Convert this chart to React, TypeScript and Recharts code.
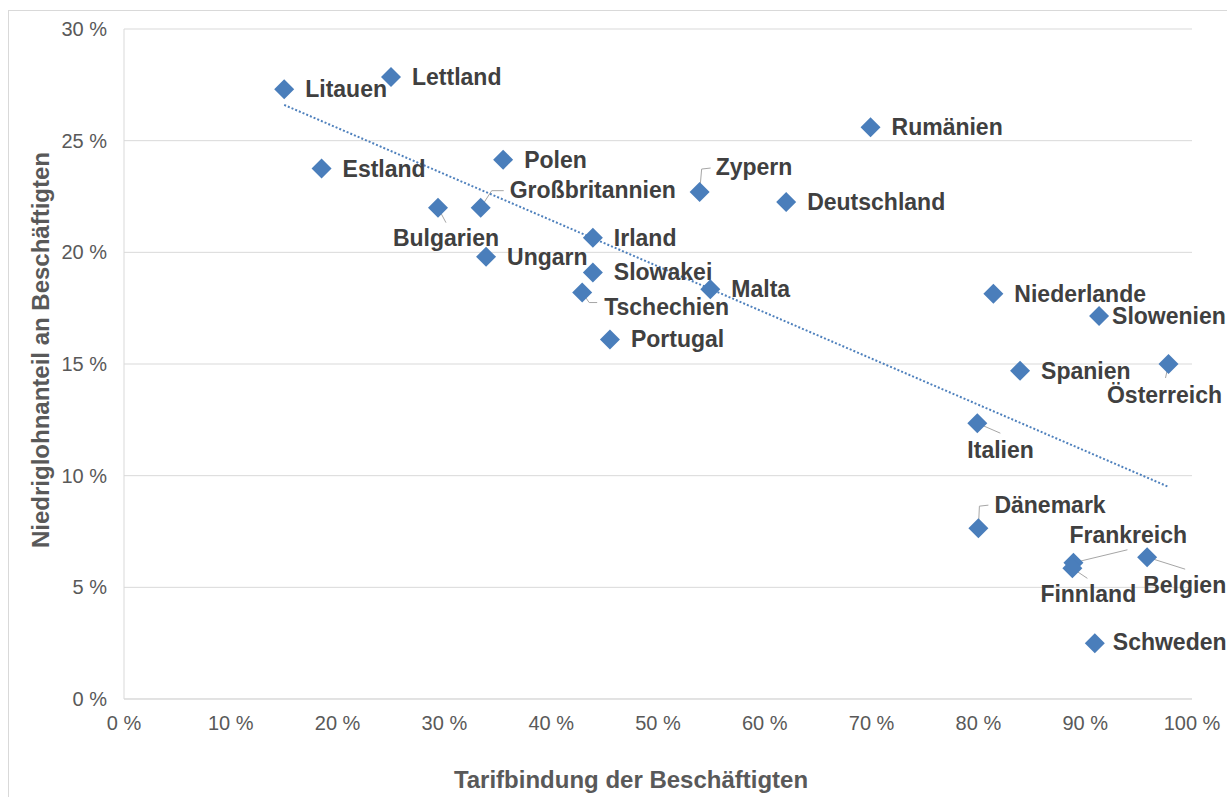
import React from 'react';
import { ScatterChart, Scatter, XAxis, YAxis, CartesianGrid, ReferenceLine } from 'recharts';

const countries = [
  'Litauen', 'Lettland', 'Estland', 'Bulgarien', 'Großbritannien', 'Polen', 'Ungarn', 'Irland',
  'Slowakei', 'Tschechien', 'Portugal', 'Malta', 'Zypern', 'Deutschland', 'Rumänien', 'Niederlande',
  'Slowenien', 'Österreich', 'Spanien', 'Italien', 'Dänemark', 'Frankreich', 'Finnland', 'Belgien', 'Schweden',
];
const coverage = [
  15.0, 25.0, 18.5, 29.4, 33.4, 35.5, 33.9, 43.9,
  43.9, 42.9, 45.5, 54.9, 53.9, 62.0, 69.9, 81.4,
  91.3, 97.8, 83.9, 79.9, 80.0, 88.9, 88.8, 95.8, 90.9,
];
const lowWage = [
  27.3, 27.85, 23.75, 22.0, 22.0, 24.15, 19.8, 20.65,
  19.1, 18.2, 16.1, 18.35, 22.7, 22.25, 25.6, 18.15,
  17.15, 15.0, 14.7, 12.35, 7.65, 6.1, 5.85, 6.35, 2.5,
];
const trendX = [15.0, 97.8];
const trendY = [26.6, 9.5];
const xTicks = [0, 10, 20, 30, 40, 50, 60, 70, 80, 90, 100];
const yTicks = [0, 5, 10, 15, 20, 25, 30];
const xTitle = 'Tarifbindung der Beschäftigten';
const yTitle = 'Niedriglohnanteil an Beschäftigten';

const data = countries.map((name, i) => ({ name, x: coverage[i], y: lowWage[i] }));

type Placement = { dx: number; dy: number; anchor?: 'start' | 'middle'; leader?: number[][] };
const defaultPlacement: Placement = { dx: 21, dy: 8 };
const placements: Record<string, Placement> = {
  'Großbritannien': { dx: 29, dy: -10, leader: [[0, 0], [11, -17], [23, -17]] },
  Bulgarien: { dx: 8, dy: 38, anchor: 'middle', leader: [[0, 0], [8, 15]] },
  Tschechien: { dx: 22, dy: 22, leader: [[0, 0], [7, 10], [15, 10]] },
  Zypern: { dx: 16, dy: -17, leader: [[0, 0], [2, -23], [11, -24]] },
  'Österreich': { dx: -4, dy: 39, anchor: 'middle', leader: [[0, 0], [-3, 14]] },
  Italien: { dx: -10, dy: 35, leader: [[0, 0], [23, 10]] },
  'Dänemark': { dx: 16, dy: -15, leader: [[0, 0], [1, -22], [10, -23]] },
  Frankreich: { dx: -4, dy: -20, leader: [[0, 0], [54, -13]] },
  Finnland: { dx: -32, dy: 34, leader: [[0, 0], [15, 10]] },
  Belgien: { dx: -4, dy: 36, leader: [[0, 0], [38, 12]] },
  Slowenien: { dx: 13, dy: 8 },
  Schweden: { dx: 18, dy: 7 },
};

const FONT = '"Liberation Sans", Arial, sans-serif';
const MARK = '#4a7ebb';

const DiamondWithLabel = (props: any) => {
  const { cx, cy, payload } = props;
  if (cx == null || cy == null) return null;
  const name: string = payload?.name ?? '';
  const p = placements[name] ?? defaultPlacement;
  const s = 10;
  return (
    <g>
      {p.leader && (
        <polyline
          points={p.leader.map(([a, b]) => `${cx + a},${cy + b}`).join(' ')}
          fill="none"
          stroke="#a6a6a6"
          strokeWidth={1}
        />
      )}
      <polygon
        points={`${cx},${cy - s} ${cx + s},${cy} ${cx},${cy + s} ${cx - s},${cy}`}
        fill={MARK}
      />
      <text
        x={cx + p.dx}
        y={cy + p.dy}
        textAnchor={p.anchor ?? 'start'}
        fontFamily={FONT}
        fontWeight="bold"
        fontSize={23}
        fill="#404040"
      >
        {name}
      </text>
    </g>
  );
};

const pct = (v: number) => `${v} %`;

export default function App() {
  return (
    <div style={{ position: 'relative', width: 1227, height: 797, overflow: 'hidden' }}>
      <style>{`body{margin:0;overflow:hidden} .recharts-wrapper, .recharts-surface{overflow:visible !important}`}</style>
      <div
        style={{
          position: 'absolute', left: 8, top: 10, width: 1219, height: 787,
          borderLeft: '1px solid #d9d9d9', borderTop: '1px solid #d9d9d9', boxSizing: 'border-box',
        }}
      />
      <div style={{ position: 'absolute', left: 8, top: 8 }}>
        <ScatterChart
          width={1219}
          height={789}
          margin={{ top: 21, right: 35, bottom: 38, left: 60 }}
        >
          <CartesianGrid vertical={false} stroke="#d9d9d9" strokeWidth={1} />
          <XAxis
            type="number"
            dataKey="x"
            domain={[0, 100]}
            ticks={xTicks}
            tickFormatter={pct}
            tickSize={0}
            tickMargin={17}
            height={60}
            axisLine={{ stroke: '#d9d9d9' }}
            tickLine={false}
            tick={{ fill: '#595959', fontSize: 20, fontFamily: FONT }}
            label={{
              content: (lp: any) => {
                const vb = lp.viewBox;
                return (
                  <text
                    x={vb.x + vb.width / 2 - 27}
                    y={vb.y + vb.height + 29}
                    textAnchor="middle"
                    fontFamily={FONT}
                    fontWeight="bold"
                    fontSize={24}
                    fill="#595959"
                  >
                    {xTitle}
                  </text>
                );
              },
            }}
          />
          <YAxis
            type="number"
            dataKey="y"
            domain={[0, 30]}
            ticks={yTicks}
            tickFormatter={pct}
            width={56}
            tickSize={0}
            tickMargin={17}
            axisLine={{ stroke: '#d9d9d9' }}
            tickLine={false}
            tick={{ fill: '#595959', fontSize: 20, fontFamily: FONT }}
            label={{
              content: (lp: any) => {
                const vb = lp.viewBox;
                const x = vb.x - 28;
                const y = vb.y + vb.height / 2 - 14;
                return (
                  <text
                    x={x}
                    y={y}
                    transform={`rotate(-90, ${x}, ${y})`}
                    textAnchor="middle"
                    dominantBaseline="central"
                    fontFamily={FONT}
                    fontWeight="bold"
                    fontSize={24}
                    fill="#595959"
                  >
                    {yTitle}
                  </text>
                );
              },
            }}
          />
          <ReferenceLine
            segment={[{ x: trendX[0], y: trendY[0] }, { x: trendX[1], y: trendY[1] }]}
            stroke="#4f81bd"
            strokeWidth={2}
            strokeDasharray="2 2"
          />
          <Scatter data={data} isAnimationActive={false} shape={DiamondWithLabel} />
        </ScatterChart>
      </div>
    </div>
  );
}
